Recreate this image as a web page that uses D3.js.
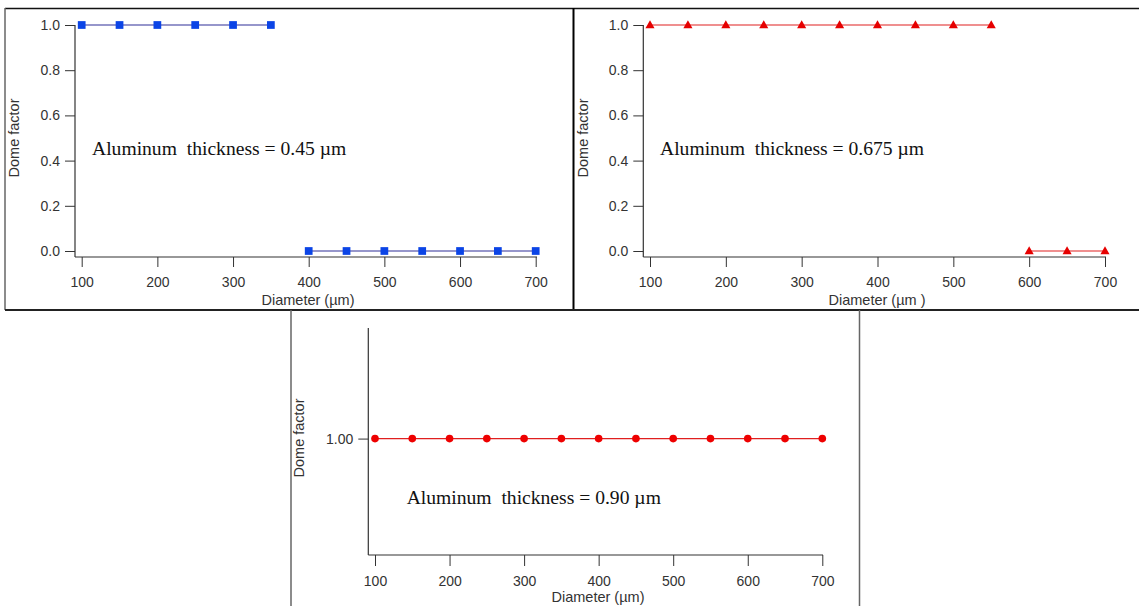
<!DOCTYPE html>
<html>
<head>
<meta charset="utf-8">
<script src="https://cdn.jsdelivr.net/npm/d3@7"></script>
<style>
  html, body { margin: 0; padding: 0; background: #fff; }
  svg { display: block; }
  .tick text { font-family: "Liberation Sans", Arial, sans-serif; font-size: 14px; fill: #333; }
  .tick line { stroke: #333; }
  .axis-title { font-family: "Liberation Sans", Arial, sans-serif; font-size: 14.5px; fill: #333; }
  .note { font-family: "Liberation Serif", "Times New Roman", serif; font-size: 19.6px; fill: #111; white-space: pre; }
</style>
</head>
<body>
<svg id="fig" width="1139" height="606"></svg>
<script>
// Pillar diameters (µm) and dome factor for three aluminum thicknesses
const diameters = [100, 150, 200, 250, 300, 350, 400, 450, 500, 550, 600, 650, 700];
const dome045  = [1, 1, 1, 1, 1, 1, 0, 0, 0, 0, 0, 0, 0];
const dome0675 = [1, 1, 1, 1, 1, 1, 1, 1, 1, 1, 0, 0, 0];
const dome090  = [1, 1, 1, 1, 1, 1, 1, 1, 1, 1, 1, 1, 1];

const xTicks = [100, 200, 300, 400, 500, 600, 700];
const yTicksFull = [0, 0.2, 0.4, 0.6, 0.8, 1.0];
const yTicksSingle = [1.0];

const notes = ["Aluminum  thickness = 0.45 µm", "Aluminum  thickness = 0.675 µm", "Aluminum  thickness = 0.90 µm"];
const xTitles = ["Diameter (µm)", "Diameter (µm )", "Diameter (µm)"];
const yTitle = "Dome factor";

const svg = d3.select("#fig");

// panel frames
const frame = svg.append("g").attr("fill", "none");
frame.append("line").attr("x1", 5).attr("x2", 1139).attr("y1", 8.5).attr("y2", 8.5).attr("stroke", "#111").attr("stroke-width", 1.5);
frame.append("line").attr("x1", 5).attr("x2", 5).attr("y1", 8).attr("y2", 310).attr("stroke", "#666").attr("stroke-width", 1.5);
frame.append("line").attr("x1", 573.5).attr("x2", 573.5).attr("y1", 8).attr("y2", 310).attr("stroke", "#000").attr("stroke-width", 2);
frame.append("line").attr("x1", 5).attr("x2", 1139).attr("y1", 310).attr("y2", 310).attr("stroke", "#222").attr("stroke-width", 2);
frame.append("line").attr("x1", 291).attr("x2", 291).attr("y1", 310).attr("y2", 606).attr("stroke", "#666").attr("stroke-width", 1.5);
frame.append("line").attr("x1", 859.5).attr("x2", 859.5).attr("y1", 310).attr("y2", 606).attr("stroke", "#666").attr("stroke-width", 1.5);

const panels = [
  { values: dome045, note: notes[0], xTitle: xTitles[0], marker: "square",
    fill: "#0b44e6", lineColor: "#2e2e98",
    axisX: 75, axisY: 257, axisTop: 25, axisRight: 537,
    xRange: [81.7, 535.7], yDomain: [0, 1], yRange: [251, 25], yTicks: yTicksFull, yFmt: d3.format(".1f"),
    noteX: 92, noteY: 155, xTitleX: 308, xTitleY: 305, yTitleX: 19, yTitleY: 138, tickLen: 10, xPad: 10 },
  { values: dome0675, note: notes[1], xTitle: xTitles[1], marker: "triangle",
    fill: "#e60000", lineColor: "#e02020",
    axisX: 643.3, axisY: 257, axisTop: 25, axisRight: 1106,
    xRange: [650, 1105], yDomain: [0, 1], yRange: [251, 25], yTicks: yTicksFull, yFmt: d3.format(".1f"),
    noteX: 660, noteY: 155, xTitleX: 877, xTitleY: 305, yTitleX: 588, yTitleY: 138, tickLen: 10, xPad: 10 },
  { values: dome090, note: notes[2], xTitle: xTitles[2], marker: "circle",
    fill: "#ee0000", lineColor: "#e02020",
    axisX: 368.3, axisY: 555, axisTop: 328, axisRight: 823,
    xRange: [375, 822.3], yDomain: [0.9, 1.095], yRange: [555, 328], yTicks: yTicksSingle, yFmt: d3.format(".2f"),
    noteX: 406.7, noteY: 504, xTitleX: 598, xTitleY: 602, yTitleX: 304, yTitleY: 438, tickLen: 11, xPad: 10.5 }
];

panels.forEach(p => {
  const g = svg.append("g");
  const x = d3.scaleLinear().domain([100, 700]).range(p.xRange);
  const y = d3.scaleLinear().domain(p.yDomain).range(p.yRange);

  // axes
  const xAxis = g.append("g").attr("transform", `translate(0,${p.axisY})`)
    .call(d3.axisBottom(x).tickValues(xTicks).tickSize(p.tickLen).tickPadding(p.xPad).tickSizeOuter(0));
  xAxis.select(".domain").remove();
  const yAxis = g.append("g").attr("transform", `translate(${p.axisX},0)`)
    .call(d3.axisLeft(y).tickValues(p.yTicks).tickFormat(p.yFmt).tickSize(10).tickPadding(5).tickSizeOuter(0));
  yAxis.select(".domain").remove();

  g.append("line").attr("x1", p.axisX).attr("x2", p.axisRight).attr("y1", p.axisY).attr("y2", p.axisY)
    .attr("stroke", "#333").attr("stroke-width", 1.2);
  g.append("line").attr("x1", p.axisX).attr("x2", p.axisX).attr("y1", p.axisTop).attr("y2", p.axisY)
    .attr("stroke", "#333").attr("stroke-width", 1.2);

  // axis titles
  g.append("text").attr("class", "axis-title").attr("x", p.xTitleX).attr("y", p.xTitleY)
    .attr("text-anchor", "middle").text(p.xTitle);
  g.append("text").attr("class", "axis-title").attr("text-anchor", "middle")
    .attr("transform", `translate(${p.yTitleX},${p.yTitleY}) rotate(-90)`).text(yTitle);

  // data: split line into runs of equal value (no connection across a jump)
  const pts = diameters.map((d, i) => ({ d, v: p.values[i] }));
  const runs = [];
  pts.forEach((pt, i) => {
    if (i === 0 || pt.v !== pts[i - 1].v) runs.push([]);
    runs[runs.length - 1].push(pt);
  });
  const line = d3.line().x(pt => x(pt.d)).y(pt => y(pt.v));
  g.selectAll("path.series").data(runs).join("path").attr("class", "series")
    .attr("d", line).attr("fill", "none").attr("stroke", p.lineColor).attr("stroke-width", 1.2);

  const sym = p.marker === "square" ? d3.symbolSquare : p.marker === "triangle" ? d3.symbolTriangle : d3.symbolCircle;
  const size = p.marker === "square" ? 60 : p.marker === "triangle" ? 36 : 46;
  g.selectAll("path.mark").data(pts).join("path").attr("class", "mark")
    .attr("transform", pt => `translate(${x(pt.d)},${y(pt.v) + (p.marker === "triangle" ? 0.5 : 0)})`)
    .attr("d", d3.symbol().type(sym).size(size))
    .attr("fill", p.fill);

  // annotation
  g.append("text").attr("class", "note").attr("x", p.noteX).attr("y", p.noteY)
    .attr("xml:space", "preserve").text(p.note);
});
</script>
</body>
</html>
